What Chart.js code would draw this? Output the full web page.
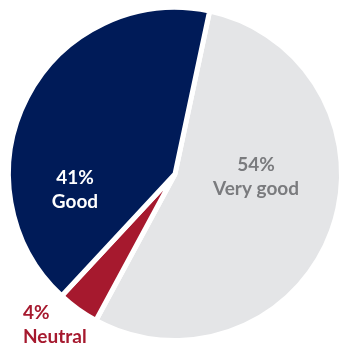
<!DOCTYPE html>
<html>
<head>
<meta charset="utf-8">
<script src="https://cdn.jsdelivr.net/npm/chart.js@4.4.1/dist/chart.umd.min.js"></script>
<style>
  html, body { margin: 0; padding: 0; background: #fff; overflow: hidden; }
  #wrap { width: 350px; height: 347px; }
</style>
</head>
<body>
<div id="wrap"><canvas id="ratingChart" width="350" height="347"></canvas></div>
<script>
// Rating shares (percent)
const categories = ['Very good', 'Neutral', 'Good'];
const shares = [54, 4, 41];
const sliceColors = ['#e4e5e7', '#a6192e', '#001b58'];
const textColors = ['#7a7b7e', '#a6192e', '#ffffff'];

// where each label block sits, relative to the pie centre
const labelSpots = [
    { dx: 81, dy: 3, align: 'center' },
    { dx: -152, dy: 151, align: 'left' },
    { dx: -100, dy: 16, align: 'center' }
];

const sliceLabels = {
    id: 'sliceLabels',
    afterDatasetsDraw(chart) {
        const ctx = chart.ctx;
        const arc = chart.getDatasetMeta(0).data[0];
        const cx = arc.x, cy = arc.y;
        ctx.save();
        ctx.font = 'bold 19px Lato, sans-serif';
        ctx.textBaseline = 'middle';
        shares.forEach((v, i) => {
            const spot = labelSpots[i];
            ctx.fillStyle = textColors[i];
            ctx.textAlign = spot.align;
            const x = cx + spot.dx, y = cy + spot.dy;
            ctx.fillText(`${v}%`, x, y - 12);
            ctx.fillText(categories[i], x, y + 12);
        });
        ctx.restore();
    }
};

new Chart(document.getElementById('ratingChart'), {
    type: 'pie',
    data: {
        labels: categories,
        datasets: [{
            data: shares,
            backgroundColor: sliceColors,
            borderColor: '#ffffff',
            borderWidth: 5
        }]
    },
    options: {
        responsive: false,
        animation: false,
        rotation: 12,
        layout: { padding: { left: 6, right: 6, top: 5, bottom: 4 } },
        plugins: {
            legend: { display: false },
            tooltip: { enabled: false }
        }
    },
    plugins: [sliceLabels]
});
</script>
</body>
</html>
